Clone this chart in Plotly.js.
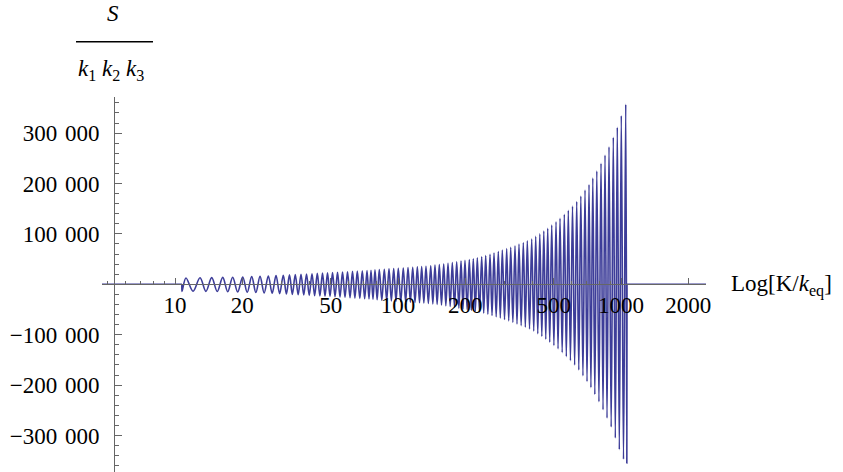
<!DOCTYPE html>
<html>
<head>
<meta charset="utf-8">
<script src="https://cdn.plot.ly/plotly-3.0.1.min.js"></script>
<style>
html,body{margin:0;padding:0;background:#fff;}
#chart{width:843px;height:472px;}
</style>
</head>
<body>
<div id="chart"></div>
<script>
// ---- data (K values, S/(k1 k2 k3) values) ----
const peakK = [11.20, 12.95, 14.61, 16.37, 18.14, 20.12, 22.08, 24.06, 26.21, 28.38,
  30.59, 32.61, 34.62, 36.73, 38.88, 41.15, 43.46, 45.86, 48.29, 50.86,
  53.55, 56.39, 59.37, 62.52, 65.69, 69.17, 72.61, 75.67, 78.86, 82.44,
  86.81, 91.13, 95.66, 100.3, 105.6, 110.9, 116.4, 122.1, 127.7, 133.5,
  140.2, 146.5, 153.2, 160.3, 167.6, 175.2, 183.3, 191.7, 199.7, 208.8,
  217.6, 226.8, 237.3, 247.3, 258.6, 269.5, 281.7, 293.6, 307.2, 320.2,
  334.7, 348.8, 364.7, 380.1, 397.7, 414.5, 432.4, 450.6, 469.2, 489.0,
  511.2, 532.7, 556.9, 580.4, 606.1, 633.0, 660.4, 689.6, 718.7, 747.4,
  778.9, 813.5, 847.8, 883.5, 923.6, 962.5, 1003, 1050];
const peakS = [12500, 13000, 13300, 13700, 14000, 14600, 15200, 15800, 16600, 17300,
  18000, 18600, 19200, 19900, 20500, 21000, 21600, 22200, 22700, 23200,
  23800, 24400, 25000, 25600, 26200, 26800, 27400, 28000, 28600, 29300,
  30000, 30600, 31200, 31800, 32400, 33100, 33800, 34500, 35200, 35900,
  36900, 38000, 39100, 40300, 41600, 43000, 44600, 46200, 47600, 49000,
  50800, 52500, 54600, 56800, 59300, 62000, 65000, 68000, 70800, 73500,
  76600, 80000, 83000, 86300, 90000, 95000, 100000, 105500, 111000, 117600,
  124000, 131000, 139000, 147000, 155000, 164000, 175000, 187000, 198000, 211000,
  224800, 240000, 256500, 273000, 291700, 311500, 334500, 357000];
const troughK = [10.75, 12.05, 13.76, 15.47, 17.23, 19.10, 21.08, 23.05, 25.10, 27.27,
  29.46, 31.58, 33.60, 35.66, 37.79, 39.99, 42.29, 44.64, 47.06, 49.56,
  52.19, 54.95, 57.86, 60.93, 64.09, 67.41, 70.87, 74.12, 77.25, 80.63,
  84.60, 88.95, 93.37, 97.95, 102.9, 108.2, 113.6, 119.2, 124.9, 130.6,
  136.8, 143.3, 149.8, 156.7, 163.9, 171.4, 179.2, 187.5, 195.7, 204.2,
  213.2, 222.2, 232.0, 242.3, 252.9, 264.0, 275.6, 287.6, 300.4, 313.7,
  327.4, 341.7, 356.7, 372.4, 388.9, 406.1, 423.4, 441.5, 459.9, 479.1,
  500.1, 522.0, 544.8, 568.6, 593.2, 619.5, 646.7, 675.0, 704.1, 733.0,
  763.1, 796.2, 830.6, 865.6, 903.5, 943.0, 982.7, 1026, 1062];
const troughS = [-14000, -13800, -14000, -14300, -14700, -15200, -15800, -16400, -17100, -17800,
  -18600, -19300, -20000, -20700, -21300, -21900, -22500, -23100, -23700, -24200,
  -24800, -25400, -26000, -26700, -27400, -28000, -28700, -29300, -30000, -30700,
  -31400, -32100, -32800, -33500, -34200, -34900, -35300, -36000, -36600, -37200,
  -37800, -38800, -39900, -41100, -42500, -44000, -45600, -47200, -48700, -50200,
  -51600, -53200, -55000, -57000, -59200, -61800, -64500, -67000, -69800, -72500,
  -75500, -78800, -82000, -85200, -88800, -93000, -98000, -103500, -109000, -115000,
  -121500, -128000, -135500, -143500, -151500, -160000, -170000, -181500, -193000, -205000,
  -218500, -233000, -249000, -265500, -283000, -305000, -328000, -347000, -355000];
// flat (zero) parts of the curve before and after the oscillation
const flatLeftK = [4.706, 10.74];
const flatRightK = [1064, 2405];
const flatS = [0, 0];

// axis ticks
const xTickVals = [10, 20, 50, 100, 200, 500, 1000, 2000];
const xTickText = ['10', '20', '50', '100', '200', '500', '1000', '2000'];
const xMinorVals = [5, 6, 7, 8, 9, 30, 40, 60, 70, 80, 90, 300, 400, 600, 700, 800, 900];
const yTickVals = [-300000, -200000, -100000, 100000, 200000, 300000];
const yTickText = ['\u2212300\u2004000', '\u2212200\u2004000', '\u2212100\u2004000',
                   '100\u2004000', '200\u2004000', '300\u2004000'];

// ---- build traces ----
const oscK = [flatLeftK[1]], oscS = [0];
for (let i = 0; i < troughK.length; i++) {
  oscK.push(troughK[i]); oscS.push(troughS[i]);
  if (i < peakK.length) { oscK.push(peakK[i]); oscS.push(peakS[i]); }
}
oscK.push(flatRightK[0]); oscS.push(0);

const lineColor = '#3d3d99';
const traces = [
  {x: flatLeftK, y: flatS, type: 'scatter', mode: 'lines',
   line: {color: lineColor, width: 1.5}, hoverinfo: 'skip'},
  {x: flatRightK, y: flatS, type: 'scatter', mode: 'lines',
   line: {color: lineColor, width: 1.5}, hoverinfo: 'skip'},
  {x: oscK, y: oscS, type: 'scatter', mode: 'lines',
   line: {color: lineColor, width: 1.6, shape: 'spline', smoothing: 1}, hoverinfo: 'skip'}
];

const serif = '"Liberation Serif", "Times New Roman", serif';
const axisCol = '#666666';
const layout = {
  width: 843, height: 472,
  margin: {l: 0, r: 0, t: 0, b: 0},
  paper_bgcolor: '#fff', plot_bgcolor: 'rgba(0,0,0,0)',
  showlegend: false,
  xaxis: {
    type: 'log', domain: [0.12100, 0.83749], range: [0.67265, 3.38117],
    anchor: 'free', position: 0.39767,
    tickmode: 'array', tickvals: xTickVals, ticktext: xTickText,
    ticks: 'inside', ticklen: 6, tickcolor: axisCol, tickwidth: 1,
    showline: true, linecolor: axisCol, linewidth: 1,
    showgrid: false, zeroline: false,
    tickfont: {family: serif, size: 23, color: '#000'},
    ticklabelstandoff: 0,
    minor: {tickmode: 'array', tickvals: xMinorVals, ticks: 'inside', ticklen: 3.5,
            tickcolor: axisCol, tickwidth: 1, showgrid: false}
  },
  yaxis: {
    domain: [0, 0.79449], range: [-372400, 371600],
    anchor: 'free', position: 0.13523,
    tickmode: 'array', tickvals: yTickVals, ticktext: yTickText,
    ticks: 'inside', ticklen: 7, tickcolor: axisCol, tickwidth: 1,
    showline: true, linecolor: axisCol, linewidth: 1,
    showgrid: false, zeroline: false,
    tickfont: {family: serif, size: 23, color: '#000'},
    ticklabelstandoff: 10,
    minor: {dtick: 20000, tick0: 0, ticks: 'inside', ticklen: 4,
            tickcolor: axisCol, tickwidth: 1, showgrid: false}
  },
  annotations: [
    {xref: 'paper', yref: 'paper', x: 0.1340, y: 0.9713, xanchor: 'center', yanchor: 'middle',
     text: '<i>S</i>', showarrow: false, font: {family: serif, size: 23, color: '#000'}},
    {xref: 'paper', yref: 'paper', x: 0.1317, y: 0.8517, xanchor: 'center', yanchor: 'middle',
     text: '<i>k</i><sub>1</sub> <i>k</i><sub>2</sub> <i>k</i><sub>3</sub>', showarrow: false,
     font: {family: serif, size: 23, color: '#000'}},
    {xref: 'paper', yref: 'paper', x: 0.8648, y: 0.3941, xanchor: 'left', yanchor: 'middle',
     text: 'Log[K/<i>k</i><sub>eq</sub>]', showarrow: false,
     font: {family: serif, size: 23, color: '#000'}}
  ],
  shapes: [
    {type: 'line', xref: 'paper', yref: 'paper', x0: 0.09016, x1: 0.18149, y0: 0.91165, y1: 0.91165,
     line: {color: '#000', width: 1.5}}
  ]
};

Plotly.newPlot('chart', traces, layout, {staticPlot: true, displayModeBar: false});
</script>
</body>
</html>
